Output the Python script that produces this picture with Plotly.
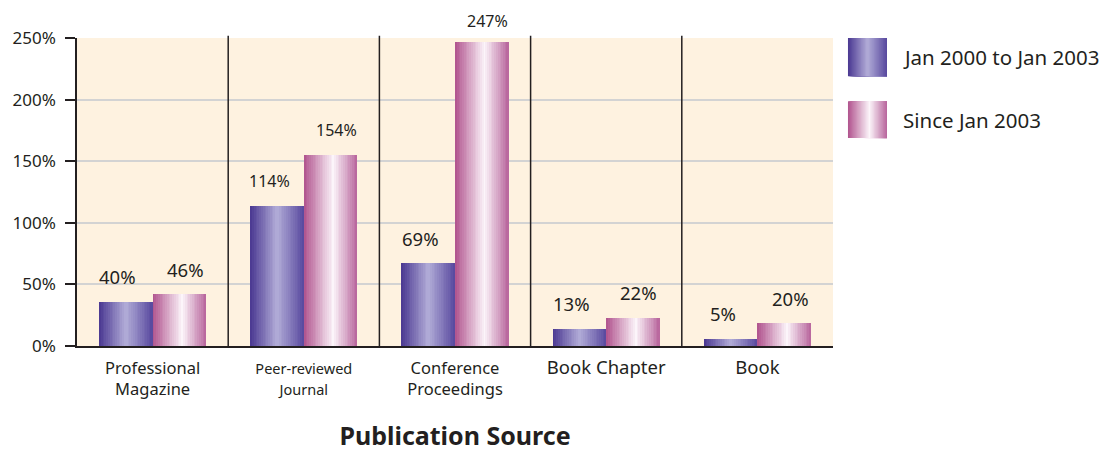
import plotly.graph_objects as go

# ---------------- data ----------------
categories = ["Professional<br>Magazine", "Peer-reviewed<br>Journal",
              "Conference<br>Proceedings", "Book Chapter", "Book"]
series_names = ["Jan 2000 to Jan 2003", "Since Jan 2003"]
values_2000_2003 = [36, 114, 67, 14, 6]
values_since_2003 = [42, 155, 247, 23, 18.5]
labels_2000_2003 = ["40%", "114%", "69%", "13%", "5%"]
labels_since_2003 = ["46%", "154%", "247%", "22%", "20%"]
y_tick_values = [0, 50, 100, 150, 200, 250]
y_tick_labels = ["0%", "50%", "100%", "150%", "200%", "250%"]
x_title = "Publication Source"

# ---------------- style ----------------
FONT = "Noto Sans"
TXT = "#231f20"
BG = "#fef2e0"
blue_stops = [(0.0, (74, 55, 145)), (0.5, (178, 173, 216)), (1.0, (88, 72, 158))]
pink_stops = [(0.0, (176, 82, 141)), (0.55, (252, 245, 250)), (1.0, (183, 100, 155))]
BAR_W = 0.354
N_SLICES = 30
TICK_SIZES = [16.5, 14.5, 16.5, 18.5, 18.5]
Y_MAX = 250


def grad(stops, t):
    for (t0, c0), (t1, c1) in zip(stops[:-1], stops[1:]):
        if t <= t1:
            f = (t - t0) / (t1 - t0) if t1 > t0 else 0
            return "rgb(%d,%d,%d)" % tuple(round(a + (b - a) * f) for a, b in zip(c0, c1))
    return "rgb(%d,%d,%d)" % stops[-1][1]


x_pos = list(range(len(categories)))
fig = go.Figure()

series = [
    (series_names[0], values_2000_2003, blue_stops, -BAR_W),
    (series_names[1], values_since_2003, pink_stops, 0.0),
]
for name, vals, stops, base_off in series:
    for k in range(N_SLICES):
        start = base_off + BAR_W * k / N_SLICES
        fig.add_trace(go.Bar(
            x=x_pos, y=vals, name=name,
            offset=start, width=BAR_W - BAR_W * k / N_SLICES,
            marker=dict(color=grad(stops, (k + 0.5) / N_SLICES), line=dict(width=0)),
            showlegend=False, hoverinfo="skip" if k else "y",
            legendgroup=name,
        ))

# value labels
for labels, vals, xoff, xshift in [(labels_2000_2003, values_2000_2003, -BAR_W / 2, -8),
                                    (labels_since_2003, values_since_2003, BAR_W / 2, 6)]:
    for i, (lab, v) in enumerate(zip(labels, vals)):
        fig.add_annotation(x=i + xoff, y=v, text=lab, showarrow=False,
                           xshift=xshift, yshift=25 if v < 0.95 * Y_MAX else 21,
                           yanchor="middle",
                           font=dict(family=FONT, size=16 if len(lab) > 3 else 18.5, color=TXT))

# category separators
for i in range(len(categories) - 1):
    fig.add_shape(type="line", xref="x", yref="y domain", x0=i + 0.5, x1=i + 0.5,
                  y0=0, y1=1.007, line=dict(color=TXT, width=1.5))

# custom legend with gradient swatches
sw_x0, sw_x1 = 1.0198, 1.0714
for (name, stops), (y0, y1) in zip([(series_names[0], blue_stops), (series_names[1], pink_stops)],
                                   [(0.876, 1.0), (0.675, 0.795)]):
    for k in range(N_SLICES):
        fig.add_shape(type="rect", xref="paper", yref="paper",
                      x0=sw_x0 + (sw_x1 - sw_x0) * k / N_SLICES, x1=sw_x1,
                      y0=y0, y1=y1, line=dict(width=0),
                      fillcolor=grad(stops, (k + 0.5) / N_SLICES))
    fig.add_annotation(xref="paper", yref="paper", x=1.0905, y=(y0 + y1) / 2,
                       text=name, showarrow=False, xanchor="left", yanchor="middle",
                       font=dict(family=FONT, size=20.5, color=TXT))

tick_text = ['<span style="font-size:%spx">%s</span>' % (s, c) for s, c in zip(TICK_SIZES, categories)]

# page body has an 8px margin: figure is sized so the plot lands where the reference has it
fig.update_layout(
    width=1104, height=444, autosize=False,
    margin=dict(l=69, r=279, t=30, b=106),
    paper_bgcolor="white", plot_bgcolor=BG,
    barmode="overlay", bargap=0, showlegend=False,
    font=dict(family=FONT, color=TXT),
)
fig.update_xaxes(
    range=[-0.5, len(categories) - 0.5], tickmode="array", automargin=False,
    tickvals=x_pos, ticktext=tick_text, ticks="", showgrid=False, zeroline=False,
    showline=True, linecolor=TXT, linewidth=1.5,
    tickfont=dict(family=FONT, size=16.5, color=TXT), ticklabelstandoff=6,
    title=dict(text="<b>" + x_title + "</b>", font=dict(family=FONT, size=25, color=TXT), standoff=33),
)
fig.update_yaxes(
    range=[0, Y_MAX], tickmode="array", tickvals=y_tick_values, ticktext=y_tick_labels,
    automargin=False,
    ticks="outside", ticklen=10, tickwidth=1.5, tickcolor=TXT,
    showgrid=True, gridcolor="#d3d3d3", gridwidth=1.5, zeroline=False,
    showline=True, linecolor=TXT, linewidth=1.5,
    tickfont=dict(family=FONT, size=17, color=TXT), ticklabelstandoff=6,
)

fig.write_html("out.html")
